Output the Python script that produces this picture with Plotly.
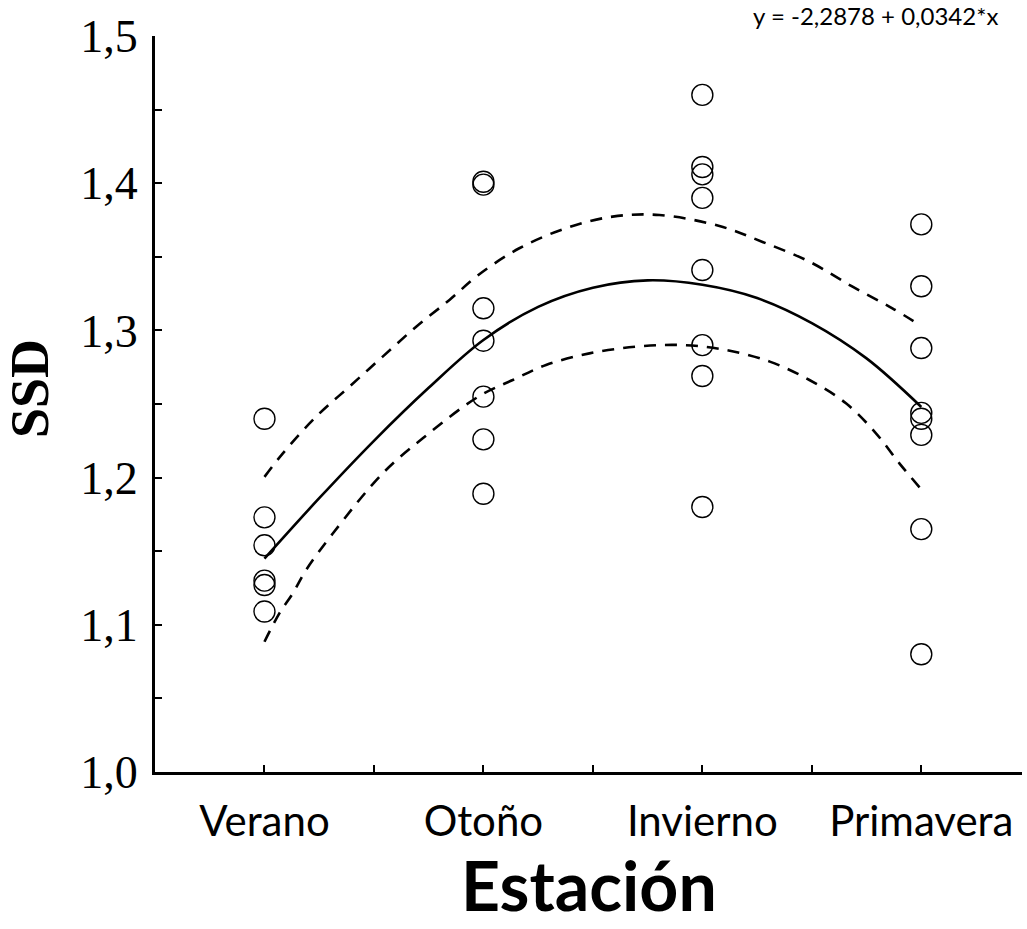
import plotly.graph_objects as go

# ---- data ----
seasons = ["Verano", "Otoño", "Invierno", "Primavera"]
season_pos = [1, 2, 3, 4]

verano = [1.240, 1.173, 1.154, 1.130, 1.127, 1.109]
otono = [1.401, 1.399, 1.315, 1.293, 1.255, 1.226, 1.189]
invierno = [1.460, 1.411, 1.406, 1.390, 1.341, 1.290, 1.269, 1.180]
primavera = [1.372, 1.330, 1.288, 1.244, 1.240, 1.229, 1.165, 1.080]

fit_x = [1.0, 1.25, 1.5, 1.75, 2.0, 2.25, 2.5, 2.75, 3.0, 3.25, 3.5, 3.75, 4.0]
fit_y = [1.145, 1.186, 1.225, 1.261, 1.2935, 1.316, 1.329, 1.334, 1.331, 1.322, 1.305, 1.281, 1.248]

upper_x = [1.0, 1.084, 1.236, 1.388, 1.54, 1.693, 1.845, 1.977, 2.164, 2.377, 2.59, 2.804, 3.078, 3.275, 3.489, 3.686, 3.868, 4.0]
upper_y = [1.2005, 1.2165, 1.2414, 1.2618, 1.2822, 1.3025, 1.3207, 1.3376, 1.3558, 1.3694, 1.3773, 1.3784, 1.3709, 1.3601, 1.3467, 1.3297, 1.3150, 1.3030]

lower_x = [1.0, 1.068, 1.129, 1.19, 1.312, 1.54, 1.723, 1.977, 2.134, 2.286, 2.484, 2.697, 2.895, 3.093, 3.308, 3.489, 3.656, 3.793, 3.9, 4.0]
lower_y = [1.0885, 1.1078, 1.1213, 1.1372, 1.162, 1.2029, 1.2267, 1.2550, 1.2663, 1.2765, 1.2844, 1.2889, 1.2901, 1.2871, 1.2788, 1.2663, 1.2505, 1.2301, 1.2097, 1.1920]

y_ticks = [1.0, 1.1, 1.2, 1.3, 1.4, 1.5]
y_ticktext = ["1,0", "1,1", "1,2", "1,3", "1,4", "1,5"]
x_tickvals = [1, 1.5, 2, 2.5, 3, 3.5, 4]
x_ticktext = ["Verano", "", "Otoño", "", "Invierno", "", "Primavera"]

equation = "y = -2,2878 + 0,0342*x"
x_title = "Estación"
y_title = "SSD"

SERIF = "Liberation Serif, Times New Roman, DejaVu Serif, serif"

fig = go.Figure()

marker = dict(symbol="circle-open", size=21, color="black", line=dict(width=1.4, color="black"))
for pos, vals in zip(season_pos, [verano, otono, invierno, primavera]):
    fig.add_trace(go.Scatter(x=[pos] * len(vals), y=vals, mode="markers",
                             marker=marker, showlegend=False, hoverinfo="y"))

fig.add_trace(go.Scatter(x=fit_x, y=fit_y, mode="lines", line=dict(color="black", width=2.6, shape="spline"),
                         showlegend=False))
fig.add_trace(go.Scatter(x=upper_x, y=upper_y, mode="lines",
                         line=dict(color="black", width=2.6, dash="12px,9px", shape="spline"), showlegend=False))
fig.add_trace(go.Scatter(x=lower_x, y=lower_y, mode="lines",
                         line=dict(color="black", width=2.6, dash="12px,9px", shape="spline"), showlegend=False))

fig.update_layout(
    width=1027, height=929,
    margin=dict(l=155, r=5, t=36, b=157),
    paper_bgcolor="white", plot_bgcolor="white",
    xaxis=dict(range=[0.5, 4.46], tickvals=x_tickvals, ticktext=x_ticktext,
               showgrid=False, zeroline=False, showline=True, linecolor="black", linewidth=3,
               ticks="inside", ticklen=7, tickwidth=2, tickcolor="black",
               tickfont=dict(family="Lato, sans-serif", size=42, color="black"),
               ticklabelstandoff=11),
    yaxis=dict(range=[1.0, 1.5], tickvals=y_ticks, ticktext=y_ticktext,
               showgrid=False, zeroline=False, showline=True, linecolor="black", linewidth=3,
               ticks="inside", ticklen=7, tickwidth=2, tickcolor="black",
               minor=dict(dtick=0.05, ticks="inside", ticklen=7, tickwidth=2, tickcolor="black", showgrid=False),
               tickfont=dict(family=SERIF, size=46, color="black"),
               ticklabelstandoff=5),
    annotations=[
        dict(text="<b>" + x_title + "</b>", xref="paper", yref="paper", x=0.5006, y=-0.1535, showarrow=False,
             font=dict(family="Lato, sans-serif", size=68, color="black"),
             xanchor="center", yanchor="middle"),
        dict(text=y_title, xref="paper", yref="paper", x=-0.1442, y=0.5217, showarrow=False,
             textangle=-90,
             font=dict(family=SERIF, size=54, color="black", weight=700),
             xanchor="center", yanchor="middle"),
        dict(text=equation, xref="paper", yref="paper", x=0.8316, y=1.0272, showarrow=False,
             font=dict(family="Lato, sans-serif", size=24, color="black"),
             xanchor="center", yanchor="middle"),
    ],
)

fig.write_html("out.html")
